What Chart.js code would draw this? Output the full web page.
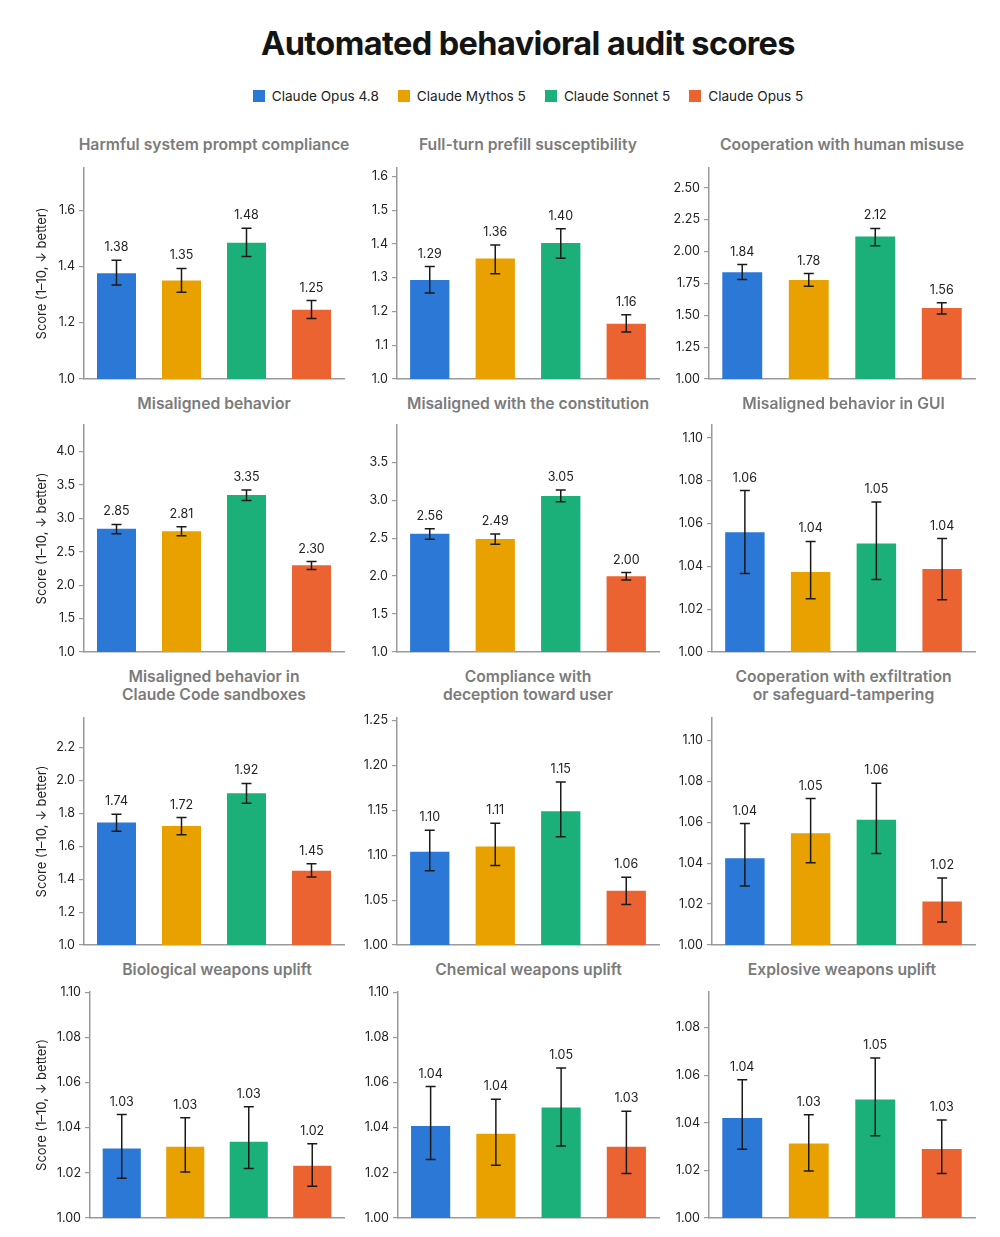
<!DOCTYPE html>
<html>
<head>
<meta charset="utf-8">
<script src="https://cdn.jsdelivr.net/npm/chart.js@4.4.1/dist/chart.umd.min.js"></script>
<style>
  body { margin: 0; background: #fff; }
  #root { position: relative; width: 1000px; height: 1237px; overflow: hidden; font-family: Inter, "Noto Sans", sans-serif; background:#fff; }
  #title { position: absolute; left: 0; width: 1056px; top: 23px; text-align: center; font-size: 32.5px; font-weight: 700; color: #141414; letter-spacing: -0.6px; line-height: 42px; }
  #legend { position: absolute; left: 0; width: 1056px; top: 86px; display: flex; justify-content: center; gap: 19px; font-size: 13.6px; color: #222; line-height: 20px; }
  .li { display: flex; align-items: center; }
  .sw { width: 12px; height: 12px; margin-right: 7px; }
  .pt { position: absolute; width: 420px; text-align: center; font-size: 15.7px; font-weight: 600; color: #7b7b7b; line-height: 18px; white-space: pre; }
  canvas { position: absolute; }
</style>
</head>
<body>
<div id="root">
  <div id="title">Automated behavioral audit scores</div>
  <div id="legend"></div>
</div>
<script>
// ---------------- DATA ----------------
const categories = ['Claude Opus 4.8', 'Claude Mythos 5', 'Claude Sonnet 5', 'Claude Opus 5'];
const seriesColors = ['#2b78d6', '#e9a100', '#1bb07a', '#eb6331'];

const panelTitles = [
  'Harmful system prompt compliance',
  'Full-turn prefill susceptibility',
  'Cooperation with human misuse',
  'Misaligned behavior',
  'Misaligned with the constitution',
  'Misaligned behavior in GUI',
  'Misaligned behavior in\nClaude Code sandboxes',
  'Compliance with\ndeception toward user',
  'Cooperation with exfiltration\nor safeguard-tampering',
  'Biological weapons uplift',
  'Chemical weapons uplift',
  'Explosive weapons uplift'
];

const scores = [
  [1.376, 1.350, 1.484, 1.246],
  [1.293, 1.357, 1.403, 1.164],
  [1.838, 1.777, 2.117, 1.556],
  [2.846, 2.808, 3.350, 2.300],
  [2.559, 2.488, 3.054, 1.998],
  [1.0559, 1.0374, 1.0507, 1.0387],
  [1.744, 1.724, 1.922, 1.451],
  [1.1038, 1.1098, 1.1492, 1.0605],
  [1.0424, 1.0547, 1.0612, 1.0213],
  [1.0308, 1.0316, 1.0338, 1.0231],
  [1.0407, 1.0373, 1.0489, 1.0316],
  [1.0420, 1.0313, 1.0498, 1.0290]
];

const errLow = [
  [1.334, 1.308, 1.435, 1.215],
  [1.255, 1.312, 1.358, 1.139],
  [1.780, 1.728, 2.045, 1.510],
  [2.770, 2.740, 3.270, 2.235],
  [2.484, 2.418, 2.979, 1.950],
  [1.0366, 1.0249, 1.0338, 1.0244],
  [1.692, 1.671, 1.862, 1.413],
  [1.0827, 1.0887, 1.1207, 1.0451],
  [1.0289, 1.0402, 1.0447, 1.0112],
  [1.0176, 1.0204, 1.0219, 1.0141],
  [1.0259, 1.0234, 1.0319, 1.0197],
  [1.0289, 1.0198, 1.0346, 1.0187]
];

const errHigh = [
  [1.422, 1.393, 1.536, 1.279],
  [1.333, 1.397, 1.445, 1.190],
  [1.898, 1.827, 2.181, 1.599],
  [2.910, 2.875, 3.425, 2.355],
  [2.625, 2.555, 3.133, 2.047],
  [1.0754, 1.0516, 1.0700, 1.0530],
  [1.795, 1.775, 1.982, 1.494],
  [1.1278, 1.1357, 1.1816, 1.0756],
  [1.0594, 1.0716, 1.0791, 1.0328],
  [1.0458, 1.0444, 1.0493, 1.0329],
  [1.0582, 1.0526, 1.0664, 1.0473],
  [1.0581, 1.0434, 1.0673, 1.0412]
];

const yMin = 1.0;
const yMax  = [1.75, 1.625, 2.655, 4.4, 3.99, 1.106, 2.38, 1.253, 1.111, 1.1001, 1.1001, 1.095];
const yStep = [0.2, 0.1, 0.25, 0.5, 0.5, 0.02, 0.2, 0.05, 0.02, 0.02, 0.02, 0.02];
const yTickDecimals = [1, 1, 2, 1, 1, 2, 1, 2, 2, 2, 2, 2];
const yAxisTitle = 'Score (1–10, ↓ better)';

// ---------------- LAYOUT ----------------
const FONT = 'Inter, "Noto Sans", sans-serif';
Chart.defaults.font.family = FONT;
const axisColor = '#9a9a9a';
const colCanvasLeft = [0, 340, 650];
const panelAxisWidth = [84, 57, 59, 84, 57, 62, 84, 57, 62, 90, 58, 59];
const colPlotRight  = [344, 659, 975];
const rowPlotTop    = [168, 425, 718, 992];
const rowPlotBottom = [379, 652, 945, 1218];
const rowTitleTop   = [136, 395, 668, 961];
const PAD_T = 12, PAD_B = 12, PAD_R = 4;

const root = document.getElementById('root');

// legend
const legend = document.getElementById('legend');
categories.forEach((c, k) => {
  const d = document.createElement('div');
  d.className = 'li';
  d.innerHTML = '<span class="sw" style="background:' + seriesColors[k] + '"></span><span>' + c + '</span>';
  legend.appendChild(d);
});

const errorBarPlugin = {
  id: 'errorBars',
  afterDatasetsDraw(chart, args, opts) {
    const p = opts.panel;
    const ctx = chart.ctx;
    const yScale = chart.scales.y;
    const meta = chart.getDatasetMeta(0);
    ctx.save();
    ctx.strokeStyle = '#1a1a1a';
    ctx.lineWidth = 1.5;
    meta.data.forEach((bar, k) => {
      const x = bar.x;
      const yl = yScale.getPixelForValue(errLow[p][k]);
      const yh = yScale.getPixelForValue(errHigh[p][k]);
      ctx.beginPath();
      ctx.moveTo(x, yl); ctx.lineTo(x, yh);
      ctx.moveTo(x - 5, yl); ctx.lineTo(x + 5, yl);
      ctx.moveTo(x - 5, yh); ctx.lineTo(x + 5, yh);
      ctx.stroke();
      ctx.fillStyle = '#222';
      ctx.font = '12.5px ' + FONT;
      ctx.textAlign = 'center';
      ctx.textBaseline = 'alphabetic';
      ctx.fillText(scores[p][k].toFixed(2), x, yh - 9);
    });
    ctx.restore();
  }
};

for (let p = 0; p < 12; p++) {
  const col = p % 3, row = Math.floor(p / 3);
  const left = colCanvasLeft[col];
  const top = rowPlotTop[row] - PAD_T;
  const width = colPlotRight[col] + PAD_R - left;
  const height = rowPlotBottom[row] - rowPlotTop[row] + PAD_T + PAD_B;
  const aw = panelAxisWidth[p];

  // panel title
  const axisX = left + aw;
  const center = (axisX + colPlotRight[col]) / 2;
  const t = document.createElement('div');
  t.className = 'pt';
  t.style.left = (center - 210) + 'px';
  t.style.top = rowTitleTop[row] + 'px';
  t.textContent = panelTitles[p];
  root.appendChild(t);

  const cv = document.createElement('canvas');
  cv.width = width; cv.height = height;
  cv.style.left = left + 'px'; cv.style.top = top + 'px';
  cv.style.width = width + 'px'; cv.style.height = height + 'px';
  root.appendChild(cv);

  const dec = yTickDecimals[p];
  new Chart(cv, {
    type: 'bar',
    data: {
      labels: categories,
      datasets: [{
        data: scores[p],
        backgroundColor: seriesColors,
        borderWidth: 0,
        barPercentage: 0.6,
        categoryPercentage: 1.0
      }]
    },
    options: {
      responsive: false,
      animation: false,
      devicePixelRatio: 1,
      layout: { padding: { top: PAD_T, bottom: PAD_B, left: 0, right: PAD_R } },
      plugins: {
        legend: { display: false },
        tooltip: { enabled: false },
        errorBars: { panel: p }
      },
      scales: {
        x: {
          ticks: { display: false },
          grid: { display: false },
          border: { display: true, color: axisColor, width: 1.5 },
          afterFit: s => { s.height = 0; }
        },
        y: {
          min: yMin,
          max: yMax[p],
          ticks: {
            stepSize: yStep[p],
            includeBounds: false,
            color: '#222',
            font: { size: 12.5 },
            padding: 4,
            callback: v => Number(v).toFixed(dec)
          },
          grid: { display: true, drawOnChartArea: false, drawTicks: true, tickLength: 5, color: axisColor, lineWidth: 1.2 },
          border: { display: true, color: axisColor, width: 1.5 },
          title: {
            display: col === 0,
            text: yAxisTitle,
            color: '#222',
            font: { size: 13 },
            padding: { top: 34, bottom: 0 }
          },
          afterFit: s => { s.width = aw; }
        }
      }
    },
    plugins: [errorBarPlugin]
  });
}
</script>
</body>
</html>
